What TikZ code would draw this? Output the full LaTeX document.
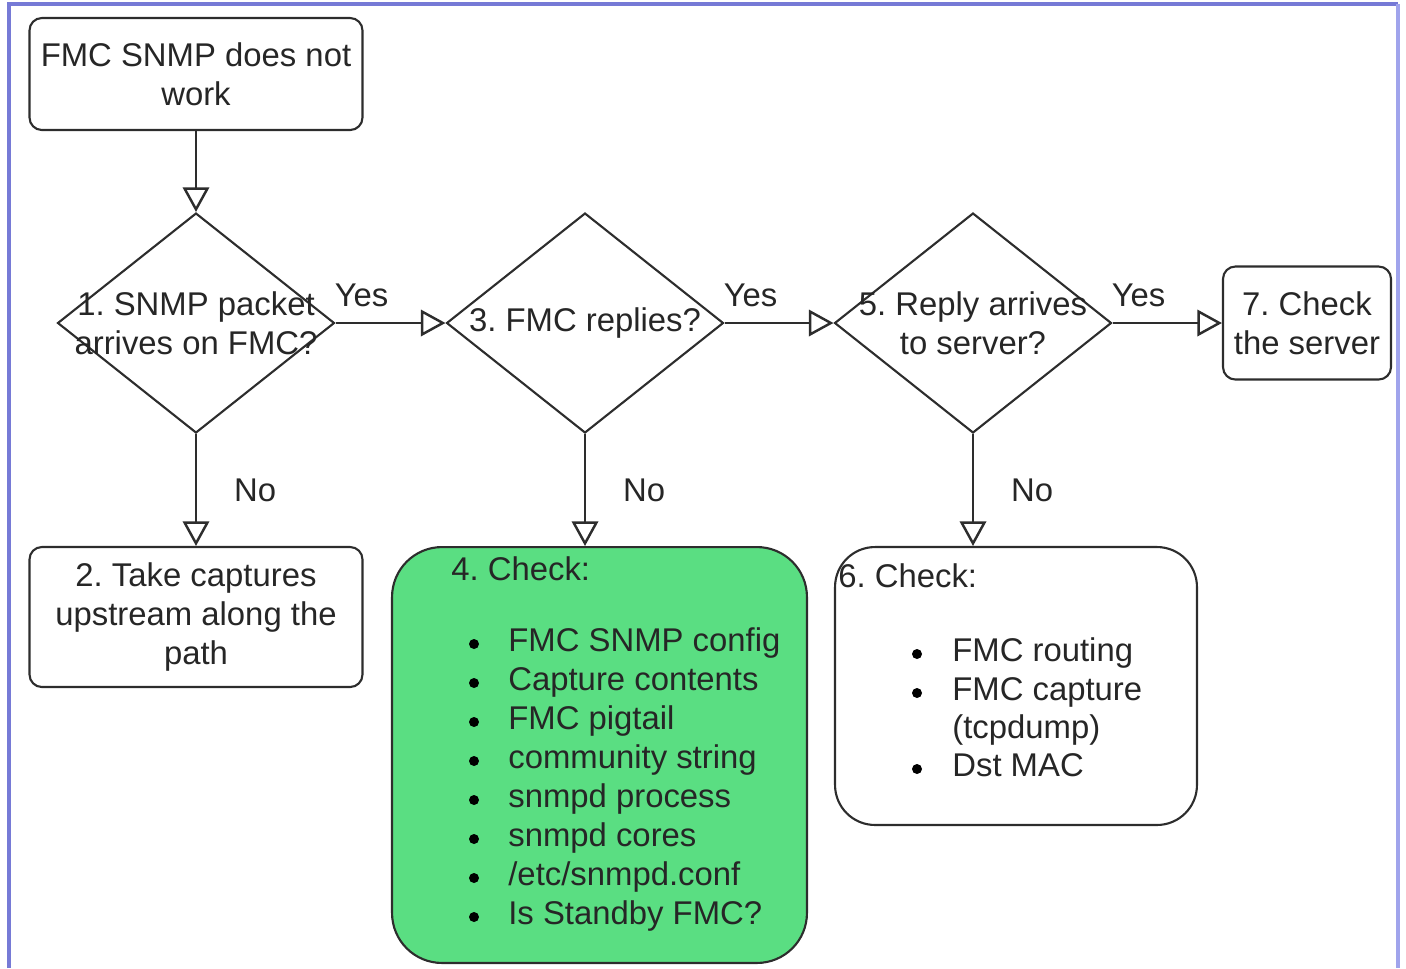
\documentclass[tikz,border=0pt]{standalone}
\usepackage{fontspec}
\setmainfont{Liberation Sans}
\usepackage{xcolor}
\usepackage{tikz}
\usetikzlibrary{arrows.meta,positioning,calc,shapes.geometric}
\definecolor{edgegray}{RGB}{45,45,45}
\definecolor{checkgreen}{RGB}{90,222,130}
\definecolor{frameL}{RGB}{118,122,214}
\definecolor{frameR}{RGB}{160,164,236}
\frenchspacing

\begin{document}
\begin{tikzpicture}[x=0.02cm,y=-0.02cm,>={Triangle[open,length=14pt,width=15pt]},
  font=\fontsize{18.7}{22.1}\selectfont,text=black!85,
  box/.style={draw=edgegray,line width=1.2pt,rounded corners=7pt,align=center,inner sep=0pt},
  start/.style={box,minimum width=6.66cm,minimum height=2.24cm},
  check/.style={box,fill=checkgreen,rounded corners=1cm},
  dec/.style={diamond,draw=edgegray,line width=1.2pt,inner sep=0pt,minimum width=5.54cm,minimum height=4.4cm},
  txt/.style={align=center,inner sep=0pt},
  flow/.style={->,draw=edgegray,line width=1.4pt},
  yes/.style={pos=0,anchor=base west,inner sep=0pt,xshift=-0.04cm,yshift=0.34cm},
  no/.style={midway,anchor=west,inner sep=0pt,xshift=0.74cm},
  item/.style={anchor=base west,inner sep=0pt}]
\useasboundingbox (0,0) rectangle (1406,968);
\draw[frameL,line width=2.2pt] (9,968) -- (9,4) -- (1398,4);
\draw[frameR,line width=2.2pt] (1398,4) -- (1398,968);
% ---- main row ----
\node[start] (s) at (196,74) {FMC SNMP does not\\work};
\node[dec] (q1) at (196,323) {};
\node[txt] (q1t) at (q1) {1. SNMP packet\\arrives on FMC?};
\node[dec] (q3) at (585,323) {};
\node[txt] (q3t) at (q3) {3. FMC replies?};
\node[dec] (q5) at (973,323) {};
\node[txt] (q5t) at (q5) {5. Reply arrives\\to server?};
\node[box,minimum width=3.36cm,minimum height=2.26cm] (b7) at (1307,323) {7. Check\\the server};
\draw[flow] (s) -- (q1);
\draw[flow] (q1) -- node[yes] (y1) {Yes} (q3);
\draw[flow] (q3) -- node[yes] (y3) {Yes} (q5);
\draw[flow] (q5) -- node[yes] (y5) {Yes} (b7);
% ---- the "No" branches ----
\node[box,minimum width=6.66cm,minimum height=2.8cm] (b2) at (196,617) {2. Take captures\\upstream along the\\path};
\node[check,minimum width=8.3cm,minimum height=8.32cm] (b4) at (599.5,755) {};
\node[box,rounded corners=0.8cm,minimum width=7.24cm,minimum height=5.56cm] (b6) at (1016,686) {};
\draw[flow] (q1) -- node[no] (n1) {No} (b2);
\draw[flow] (q3.south) -- node[no] (n3) {No} (q3.south |- b4.north);
\draw[flow] (q5.south) -- node[no] (n5) {No} (q5.south |- b6.north);
% ---- check lists ----
\node[item] (h4) at (451,580) {4. Check:};
\foreach \lab [count=\i] in {FMC SNMP config,Capture contents,FMC pigtail,community string,
    snmpd process,snmpd cores,/etc/snmpd.conf,Is Standby FMC?} {
  \fill[black] (474,612+39*\i-7) circle (0.1cm);
  \node[item] (c4\i) at (508,612+39*\i) {\lab};
}
\node[item] (h6) at (838,587) {6. Check:};
\foreach \y in {661,700,776} \fill[black] (917,\y-7) circle (0.1cm);
\foreach \y/\lab [count=\i] in {661/FMC routing,700/FMC capture,738/{(tcpdump)},776/Dst MAC}
  \node[item] (c6\i) at (952,\y) {\lab};
\end{tikzpicture}
\end{document}
